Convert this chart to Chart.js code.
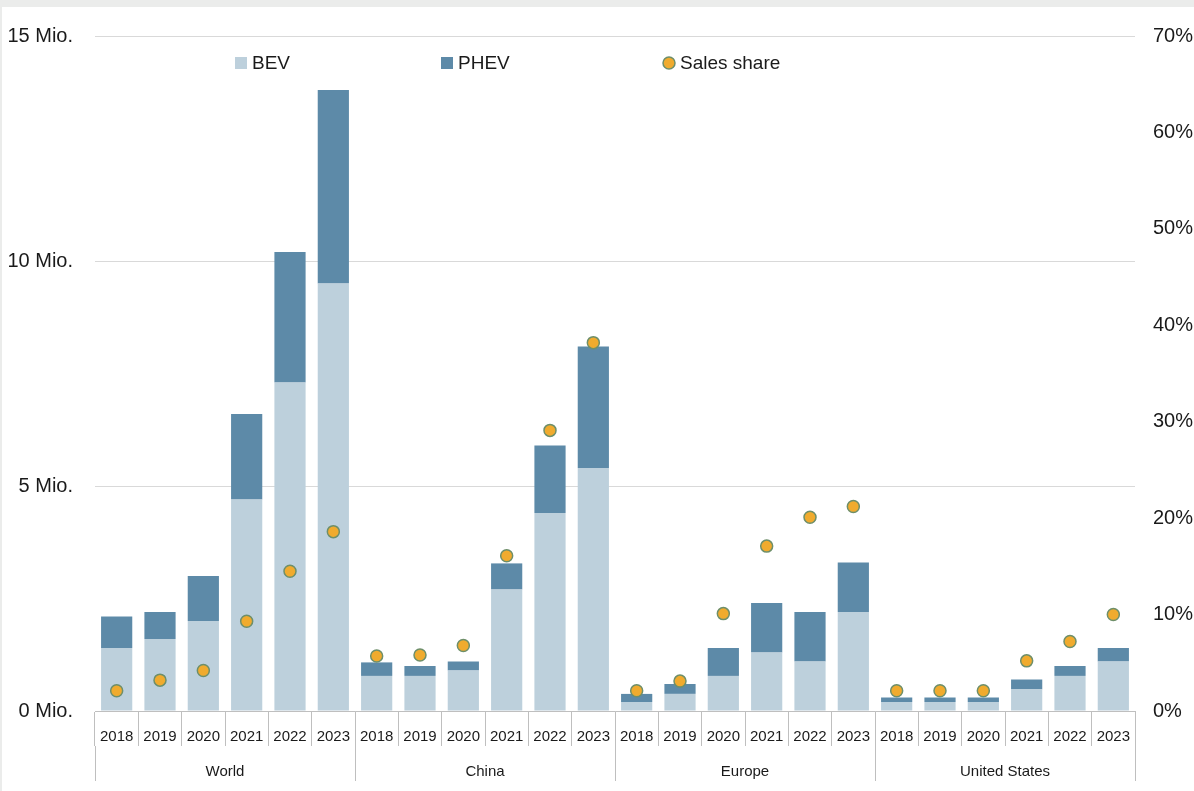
<!DOCTYPE html>
<html>
<head>
<meta charset="utf-8">
<script src="https://cdn.jsdelivr.net/npm/chart.js@4.4.1/dist/chart.umd.min.js"></script>
<style>
  html, body { margin: 0; padding: 0; background: #ebeceb; width: 1194px; height: 791px; overflow: hidden; }
  #panel { position: absolute; left: 2px; top: 7px; width: 1192px; height: 784px; background: #ffffff; }
  canvas { display: block; }
</style>
</head>
<body>
<div id="panel"><canvas id="chart" width="1192" height="784"></canvas></div>
<script>
// Electric car sales by region, million units, and share of new car sales (%)
const regions = ['World', 'China', 'Europe', 'United States'];
const years = ['2018', '2019', '2020', '2021', '2022', '2023'];

const bevWorld  = [1.4, 1.6, 2.0, 4.7, 7.3, 9.5];
const bevChina  = [0.78, 0.78, 0.9, 2.7, 4.4, 5.4];
const bevEurope = [0.2, 0.38, 0.78, 1.3, 1.1, 2.2];
const bevUS     = [0.2, 0.2, 0.2, 0.48, 0.78, 1.1];

const phevWorld  = [0.7, 0.6, 1.0, 1.9, 2.9, 4.3];
const phevChina  = [0.3, 0.22, 0.2, 0.58, 1.5, 2.7];
const phevEurope = [0.18, 0.22, 0.62, 1.1, 1.1, 1.1];
const phevUS     = [0.1, 0.1, 0.1, 0.22, 0.22, 0.3];

const shareWorld  = [2.1, 3.2, 4.2, 9.3, 14.5, 18.6];
const shareChina  = [5.7, 5.8, 6.8, 16.1, 29.1, 38.2];
const shareEurope = [2.1, 3.1, 10.1, 17.1, 20.1, 21.2];
const shareUS     = [2.1, 2.1, 2.1, 5.2, 7.2, 10.0];

const leftTicks = [0, 5, 10, 15];
const rightTicks = [0, 10, 20, 30, 40, 50, 60, 70];

const FONT = '"Liberation Sans", Arial, sans-serif';

const labels = [];
regions.forEach(r => years.forEach(y => labels.push(y)));
const bev = [...bevWorld, ...bevChina, ...bevEurope, ...bevUS];
const phev = [...phevWorld, ...phevChina, ...phevEurope, ...phevUS];
const share = [...shareWorld, ...shareChina, ...shareEurope, ...shareUS];

// Legend drawn inside the plot area, items spaced out along one row
const spacedLegend = {
  id: 'spacedLegend',
  afterDraw(chart) {
    const ctx = chart.ctx;
    const area = chart.chartArea;
    const ds = chart.data.datasets;
    const items = [
      { ds: ds[0], x: area.left + 140, kind: 'box' },
      { ds: ds[1], x: area.left + 346, kind: 'box' },
      { ds: ds[2], x: area.left + 568, kind: 'dot' }
    ];
    const cy = area.top + 27;
    ctx.save();
    ctx.font = '19px ' + FONT;
    ctx.textBaseline = 'middle';
    items.forEach(it => {
      if (it.kind === 'box') {
        ctx.fillStyle = it.ds.backgroundColor;
        ctx.fillRect(it.x, cy - 6, 12, 12);
      } else {
        ctx.beginPath();
        ctx.arc(it.x + 6, cy, 6, 0, Math.PI * 2);
        ctx.fillStyle = it.ds.backgroundColor;
        ctx.fill();
        ctx.lineWidth = 1.5;
        ctx.strokeStyle = it.ds.borderColor;
        ctx.stroke();
      }
      ctx.fillStyle = '#1a1a1a';
      ctx.fillText(it.ds.label, it.x + 17, cy + 1);
    });
    ctx.restore();
  }
};

new Chart(document.getElementById('chart'), {
  data: {
    labels: labels,
    datasets: [
      {
        type: 'bar', label: 'BEV', data: bev, backgroundColor: '#bdd0dc',
        stack: 'ev', yAxisID: 'y', xAxisID: 'x', order: 1,
        barPercentage: 0.72, categoryPercentage: 1.0
      },
      {
        type: 'bar', label: 'PHEV', data: phev, backgroundColor: '#5d8aa8',
        stack: 'ev', yAxisID: 'y', xAxisID: 'x', order: 1,
        barPercentage: 0.72, categoryPercentage: 1.0
      },
      {
        type: 'line', label: 'Sales share', data: share, showLine: false,
        backgroundColor: '#f0ab2e', borderColor: '#6e8f6a', borderWidth: 1.5,
        pointRadius: 6, pointBorderWidth: 1.5, yAxisID: 'y1', xAxisID: 'x', order: 0
      }
    ]
  },
  options: {
    responsive: false,
    animation: false,
    events: [],
    layout: { padding: { top: 29, bottom: 10, left: 0, right: 0 } },
    plugins: { legend: { display: false }, tooltip: { enabled: false } },
    scales: {
      x: {
        type: 'category', position: 'bottom', stacked: true, offset: true,
        grid: { offset: true, drawOnChartArea: false, drawTicks: true, tickLength: 35, color: '#bfbfbf', lineWidth: 1 },
        border: { display: true, color: '#bfbfbf', width: 1 },
        ticks: { autoSkip: false, maxRotation: 0, padding: -18, color: '#1a1a1a', font: { family: FONT, size: 15 } },
        afterFit(scale) { scale.height = 35; }
      },
      x2: {
        type: 'category', position: 'bottom', labels: regions, offset: true,
        grid: { offset: true, drawOnChartArea: false, drawTicks: true, tickLength: 35, color: '#bfbfbf', lineWidth: 1 },
        border: { display: false },
        ticks: { autoSkip: false, maxRotation: 0, padding: -18, color: '#1a1a1a', font: { family: FONT, size: 15 } },
        afterFit(scale) { scale.height = 35; }
      },
      y: {
        type: 'linear', position: 'left', stacked: true, min: 0, max: 15,
        afterBuildTicks(scale) { scale.ticks = leftTicks.map(v => ({ value: v })); },
        grid: { color: '#d9d9d9', lineWidth: 1, drawTicks: true, tickLength: 18, tickColor: 'rgba(0,0,0,0)' },
        border: { display: false },
        ticks: { padding: 4, color: '#1a1a1a', font: { family: FONT, size: 20 }, callback: v => v + ' Mio.' },
        afterFit(scale) { scale.width = 93; }
      },
      y1: {
        type: 'linear', position: 'right', min: 0, max: 70,
        afterBuildTicks(scale) { scale.ticks = rightTicks.map(v => ({ value: v })); },
        grid: { drawOnChartArea: false, drawTicks: true, tickLength: 14, tickColor: 'rgba(0,0,0,0)' },
        border: { display: false },
        ticks: { padding: 4, color: '#1a1a1a', font: { family: FONT, size: 20 }, callback: v => v + '%' },
        afterFit(scale) { scale.width = 59; }
      }
    }
  },
  plugins: [spacedLegend]
});
</script>
</body>
</html>
